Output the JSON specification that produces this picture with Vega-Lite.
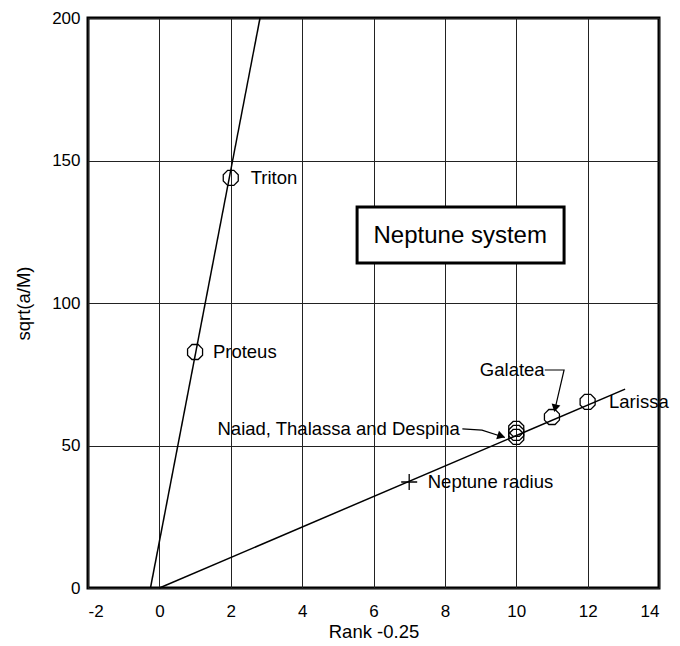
{
  "$schema": "https://vega.github.io/schema/vega-lite/v6.json",
  "width": 571,
  "height": 570,
  "autosize": "none",
  "padding": {"left": 88, "top": 18, "right": 21, "bottom": 58},
  "background": "white",
  "config": {
    "font": "Liberation Sans",
    "view": {"stroke": "black", "strokeWidth": 3},
    "axis": {
      "domain": false,
      "ticks": false,
      "tickSize": 0,
      "grid": true,
      "gridColor": "#222",
      "gridWidth": 1,
      "gridOpacity": 1,
      "labelFont": "Liberation Sans",
      "labelFontSize": 17,
      "labelColor": "black",
      "labelExpr": "toString(datum.value)",
      "titleFont": "Liberation Sans",
      "titleFontSize": 18.5,
      "titleFontWeight": "normal",
      "titleColor": "black"
    }
  },
  "datasets": {
    "moons": [
      {"name": "Triton", "rank": 2, "value": 143.9},
      {"name": "Proteus", "rank": 1, "value": 82.8},
      {"name": "Naiad", "rank": 10, "value": 53.0},
      {"name": "Thalassa", "rank": 10, "value": 54.4},
      {"name": "Despina", "rank": 10, "value": 55.8},
      {"name": "Galatea", "rank": 11, "value": 60.0},
      {"name": "Larissa", "rank": 12, "value": 65.3}
    ],
    "radius": [
      {"name": "Neptune radius", "rank": 7, "value": 37.2}
    ],
    "fits": [
      {"fit": "outer", "rank": -0.25, "value": 0},
      {"fit": "outer", "rank": 2.82, "value": 200},
      {"fit": "inner", "rank": 0, "value": 0},
      {"fit": "inner", "rank": 13.05, "value": 69.8}
    ],
    "notes": [
      {"text": "Triton", "rank": 2.56, "value": 143.9, "side": "left"},
      {"text": "Proteus", "rank": 1.5, "value": 82.8, "side": "left"},
      {"text": "Galatea", "rank": 8.98, "value": 76.5, "side": "left"},
      {"text": "Larissa", "rank": 12.6, "value": 65.3, "side": "left"},
      {"text": "Neptune radius", "rank": 7.52, "value": 37.2, "side": "left"},
      {"text": "Naiad, Thalassa and Despina", "rank": 8.42, "value": 55.8, "side": "right"}
    ],
    "leaders": [
      {"to": "Galatea", "step": 1, "rank": 10.8, "value": 76.5},
      {"to": "Galatea", "step": 2, "rank": 11.34, "value": 76.5},
      {"to": "Galatea", "step": 3, "rank": 11.08, "value": 62.5},
      {"to": "Naiad", "step": 1, "rank": 8.49, "value": 55.8},
      {"to": "Naiad", "step": 2, "rank": 9.04, "value": 55.4},
      {"to": "Naiad", "step": 3, "rank": 9.68, "value": 52.8}
    ],
    "heads": [
      {"to": "Galatea", "rank": 11.09, "value": 63.1, "turn": 13},
      {"to": "Naiad", "rank": 9.58, "value": 53.3, "turn": 18}
    ],
    "title": [
      {"text": "Neptune system", "x0": 5.54, "x1": 11.34, "y0": 114.0, "y1": 133.7, "cx": 8.43, "cy": 123.5}
    ]
  },
  "encoding": {
    "x": {
      "field": "rank",
      "type": "quantitative",
      "scale": {"domain": [-2, 14], "nice": false, "zero": false},
      "axis": {"values": [-2, 0, 2, 4, 6, 8, 10, 12, 14], "title": "Rank -0.25", "labelPadding": 15, "titlePadding": 3}
    },
    "y": {
      "field": "value",
      "type": "quantitative",
      "scale": {"domain": [0, 200], "nice": false},
      "axis": {"values": [0, 50, 100, 150, 200], "title": "sqrt(a/M)", "labelPadding": 8, "titlePadding": 18}
    }
  },
  "layer": [
    {
      "data": {"name": "fits"},
      "mark": {"type": "line", "color": "black", "strokeWidth": 1.5},
      "encoding": {"detail": {"field": "fit"}}
    },
    {
      "data": {"name": "moons"},
      "mark": {
        "type": "point",
        "shape": "M-0.414,-1L0.414,-1L1,-0.414L1,0.414L0.414,1L-0.414,1L-1,0.414L-1,-0.414Z",
        "filled": false,
        "color": "black",
        "strokeWidth": 1.3,
        "opacity": 1
      },
      "encoding": {
        "size": {
          "field": "name",
          "type": "nominal",
          "legend": null,
          "scale": {
            "domain": ["Triton", "Proteus", "Naiad", "Thalassa", "Despina", "Galatea", "Larissa"],
            "range": [225, 225, 310, 310, 310, 420, 440]
          }
        }
      }
    },
    {
      "data": {"name": "radius"},
      "mark": {
        "type": "point",
        "shape": "M-1,0L1,0M0,-1L0,1",
        "filled": false,
        "color": "black",
        "strokeWidth": 1.3,
        "size": 256,
        "opacity": 1
      }
    },
    {
      "data": {"name": "leaders"},
      "mark": {"type": "line", "color": "black", "strokeWidth": 1.2},
      "encoding": {"detail": {"field": "to"}, "order": {"field": "step"}}
    },
    {
      "data": {"name": "heads"},
      "transform": [{"filter": "datum.to === 'Galatea'"}],
      "mark": {"type": "point", "shape": "triangle-down", "filled": true, "color": "black", "size": 80, "opacity": 1},
      "encoding": {"angle": {"field": "turn", "type": "quantitative", "scale": null}}
    },
    {
      "data": {"name": "heads"},
      "transform": [{"filter": "datum.to === 'Naiad'"}],
      "mark": {"type": "point", "shape": "triangle-right", "filled": true, "color": "black", "size": 80, "opacity": 1},
      "encoding": {"angle": {"field": "turn", "type": "quantitative", "scale": null}}
    },
    {
      "data": {"name": "notes"},
      "transform": [{"filter": "datum.side === 'left'"}],
      "mark": {"type": "text", "align": "left", "baseline": "middle", "fontSize": 18.5, "color": "black", "font": "Liberation Sans"},
      "encoding": {"text": {"field": "text"}}
    },
    {
      "data": {"name": "notes"},
      "transform": [{"filter": "datum.side === 'right'"}],
      "mark": {"type": "text", "align": "right", "baseline": "middle", "fontSize": 18.5, "color": "black", "font": "Liberation Sans"},
      "encoding": {"text": {"field": "text"}}
    },
    {
      "data": {"name": "title"},
      "mark": {"type": "rect", "fill": "white", "stroke": "black", "strokeWidth": 3},
      "encoding": {
        "x": {"field": "x0", "type": "quantitative"},
        "x2": {"field": "x1"},
        "y": {"field": "y0", "type": "quantitative"},
        "y2": {"field": "y1"}
      }
    },
    {
      "data": {"name": "title"},
      "mark": {"type": "text", "align": "center", "baseline": "middle", "fontSize": 24, "color": "black", "font": "Liberation Sans"},
      "encoding": {
        "x": {"field": "cx", "type": "quantitative"},
        "y": {"field": "cy", "type": "quantitative"},
        "text": {"field": "text"}
      }
    }
  ]
}
